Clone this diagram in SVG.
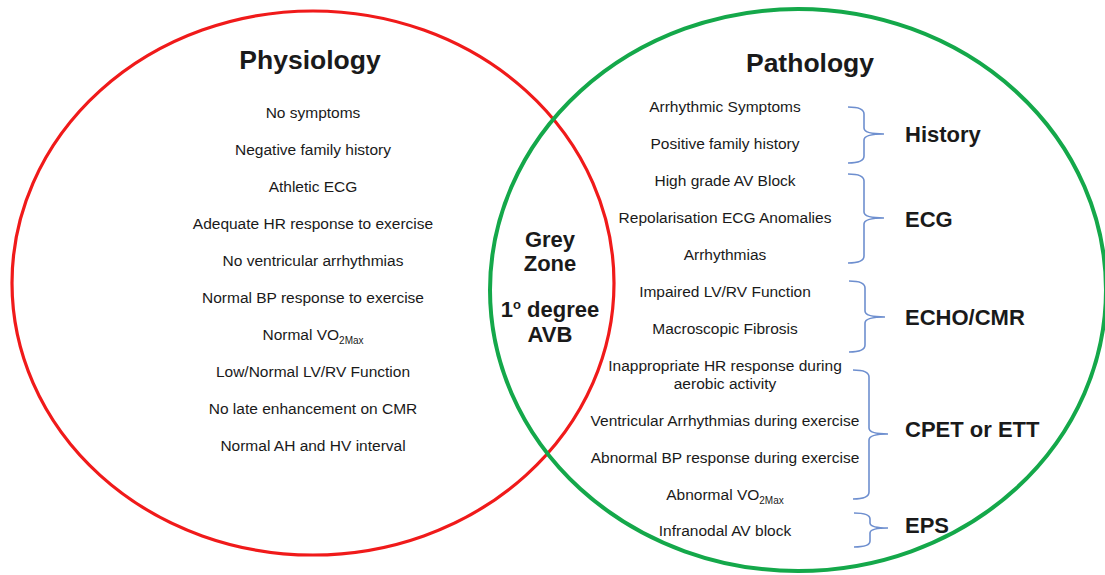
<svg xmlns="http://www.w3.org/2000/svg" width="1105" height="575" viewBox="0 0 1105 575">
<style>
text{font-family:"Liberation Sans",Arial,sans-serif;fill:#1a1a1a}
.item{font-size:15.5px;text-anchor:middle}
.title{font-size:26.5px;font-weight:bold;text-anchor:middle}
.mid{font-size:22px;font-weight:bold;text-anchor:middle}
.lab{font-size:22px;font-weight:bold}
.sub{font-size:10px}
.brace{fill:none;stroke:#6E8FCF;stroke-width:1.6}
</style>
<rect width="1105" height="575" fill="#fff"/>
<g id="physiology">
<ellipse cx="313" cy="283" rx="301" ry="272" fill="none" stroke="#F01A1A" stroke-width="3.2"/>
<text class="title" x="310" y="69">Physiology</text>
<text class="item" x="313" y="118">No symptoms</text>
<text class="item" x="313" y="155">Negative family history</text>
<text class="item" x="313" y="192">Athletic ECG</text>
<text class="item" x="313" y="229">Adequate HR response to exercise</text>
<text class="item" x="313" y="266">No ventricular arrhythmias</text>
<text class="item" x="313" y="303">Normal BP response to exercise</text>
<text class="item" x="313" y="340">Normal VO<tspan class="sub" dy="4">2Max</tspan></text>
<text class="item" x="313" y="377">Low/Normal LV/RV Function</text>
<text class="item" x="313" y="414">No late enhancement on CMR</text>
<text class="item" x="313" y="451">Normal AH and HV interval</text>
</g>
<g id="pathology">
<ellipse cx="798" cy="290" rx="308" ry="281" fill="none" stroke="#14A84A" stroke-width="4"/>
<text class="title" x="810" y="72">Pathology</text>
<text class="item" x="725" y="112">Arrhythmic Symptoms</text>
<text class="item" x="725" y="149">Positive family history</text>
<text class="item" x="725" y="186">High grade AV Block</text>
<text class="item" x="725" y="223">Repolarisation ECG Anomalies</text>
<text class="item" x="725" y="260">Arrhythmias</text>
<text class="item" x="725" y="297">Impaired LV/RV Function</text>
<text class="item" x="725" y="334">Macroscopic Fibrosis</text>
<text class="item" x="725" y="371">Inappropriate HR response during</text>
<text class="item" x="725" y="389">aerobic activity</text>
<text class="item" x="725" y="426">Ventricular Arrhythmias during exercise</text>
<text class="item" x="725" y="463">Abnormal BP response during exercise</text>
<text class="item" x="725" y="500">Abnormal VO<tspan class="sub" dy="4">2Max</tspan></text>
<text class="item" x="725" y="536">Infranodal AV block</text>
</g>
<g id="grey-zone">
<text class="mid" x="550" y="247">Grey</text>
<text class="mid" x="550" y="271">Zone</text>
<text class="mid" x="550" y="317">1<tspan font-size="13" dy="-8">o</tspan><tspan dy="8"> degree</tspan></text>
<text class="mid" x="550" y="342">AVB</text>
</g>
<g id="connectors">
<path class="brace" d="M848 107 Q864 107 864 114 L864 128 Q864 134 884 134 Q864 134 864 140 L864 156 Q864 163 848 163"/>
<path class="brace" d="M848 174 Q864 174 864 181 L864 212 Q864 218 884 218 Q864 218 864 224 L864 256 Q864 263 848 263"/>
<path class="brace" d="M849 281 Q865 281 865 288 L865 311 Q865 317 885 317 Q865 317 865 323 L865 345 Q865 352 849 352"/>
<path class="brace" d="M853 370 Q869 370 869 377 L869 428 Q869 434 888 434 Q869 434 869 440 L869 492 Q869 499 853 499"/>
<path class="brace" d="M854 513 Q870 513 870 519 L870 523 Q870 528 888 528 Q870 528 870 533 L870 541 Q870 547 854 547"/>
</g>
<g id="labels">
<text class="lab" x="905" y="142">History</text>
<text class="lab" x="905" y="227">ECG</text>
<text class="lab" x="905" y="325">ECHO/CMR</text>
<text class="lab" x="905" y="437">CPET or ETT</text>
<text class="lab" x="905" y="533">EPS</text>
</g>
</svg>
